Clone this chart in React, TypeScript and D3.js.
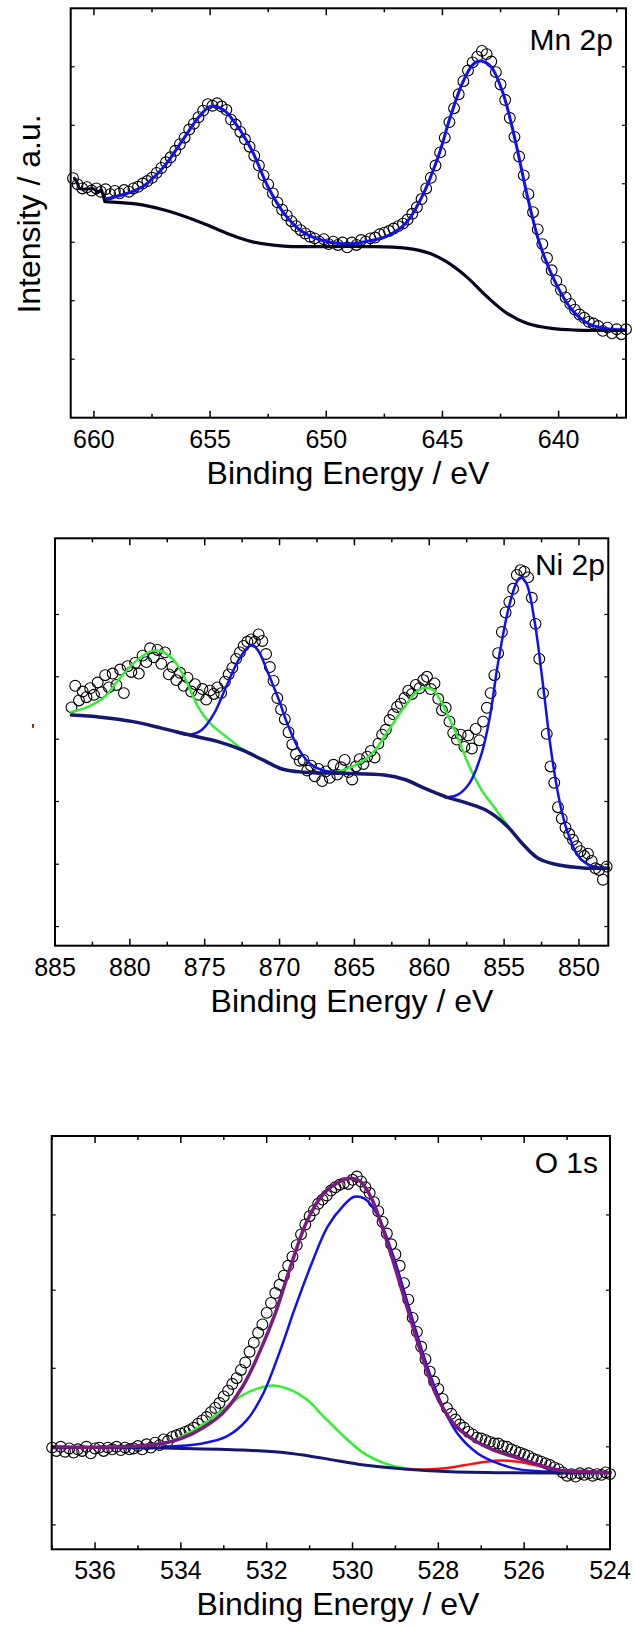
import React from "react";
import * as d3 from "d3";

type Pt = [number, number];

// ---------- Mn 2p ----------
const mnStart = 660.9;
const mnStep = 0.2;
const mnCounts = [
  58.5, 57.0, 56.0, 56.3, 55.5, 56.0, 55.2, 55.8, 54.6, 55.4,
  54.8, 55.6, 55.2, 56.0, 56.4, 57.2, 57.8, 58.6, 59.8, 61.0,
  62.4, 63.6, 65.2, 66.8, 68.4, 70.4, 71.8, 73.4, 75.0, 76.6,
  76.2, 76.8, 76.0, 75.2, 72.8, 71.6, 69.8, 68.0, 66.2, 64.0,
  61.6, 59.2, 57.0, 54.8, 52.6, 50.8, 49.4, 48.0, 46.8, 45.8,
  45.0, 44.2, 43.8, 43.0, 43.6, 42.4, 43.0, 42.2, 42.8, 41.6,
  42.8, 42.2, 43.4, 43.0, 43.8, 44.0, 44.8, 45.2, 45.6, 46.2,
  46.8, 47.4, 48.4, 49.8, 51.4, 53.4, 56.0, 58.6, 61.6, 64.8,
  68.4, 72.2, 75.6, 79.0, 82.2, 84.8, 86.8, 88.2, 89.6, 88.8,
  87.0, 84.4, 81.4, 77.6, 73.2, 68.6, 63.8, 59.2, 54.6, 50.2,
  46.0, 42.4, 39.0, 36.0, 33.4, 31.2, 29.4, 27.8, 26.4, 25.2,
  24.4, 23.4, 23.0, 22.4, 21.2, 22.0, 20.6, 21.6, 20.4, 21.6,
];
const mnEnvelope: Pt[] = [
  [659.53, 53.4], [658.8, 54.4], [657.92, 56.4], [657.05, 60.9], [656.18, 67.8],
  [655.48, 73.5], [654.96, 76.1], [654.43, 75.2], [653.91, 71.9], [653.21, 65.4],
  [652.51, 56.4], [651.82, 49.9], [651.12, 45.8], [650.24, 43.4], [649.2, 42.4],
  [648.32, 43.0], [647.45, 44.2], [646.58, 47.5], [645.88, 54.0], [645.18, 63.8],
  [644.66, 73.5], [644.14, 81.7], [643.7, 86.2], [643.35, 87.1], [642.91, 85.7],
  [642.39, 79.2], [641.87, 67.8], [641.34, 54.0], [640.82, 42.6], [640.12, 32.8],
  [639.42, 26.3], [638.73, 23.0], [638.03, 21.8], [637.16, 21.4],
];
const mnBackgroundHead: Pt[] = [
  [660.84, 58.5], [660.72, 57.4], [660.63, 56.0], [660.45, 55.8], [660.28, 55.9],
  [660.02, 55.9], [659.84, 55.2], [659.67, 55.6], [659.53, 52.8],
];
const mnBackground: Pt[] = [
  [659.53, 52.8], [657.92, 52.0], [656.7, 50.3], [655.31, 47.5], [654.26, 45.0],
  [653.21, 43.0], [651.82, 41.9], [650.07, 41.8], [648.32, 41.8], [646.58, 41.4],
  [645.53, 40.1], [644.83, 38.1], [643.96, 34.4], [643.09, 29.6], [642.22, 25.5],
  [641.34, 23.0], [640.3, 21.8], [639.25, 21.4], [637.16, 21.3],
];
const mnTicks = [660, 655, 650, 645, 640];
const mnYTicks = [14.29, 28.57, 42.86, 57.14, 71.43, 85.71];

// ---------- Ni 2p ----------
const niStart = 883.9;
const niStep = 0.25;
const niCounts = [
  58.5, 63.8, 60.2, 62.4, 61.0, 63.2, 61.6, 64.6, 62.2, 66.4,
  63.4, 66.8, 64.0, 67.8, 62.0, 68.6, 67.2, 69.4, 66.8, 71.2,
  69.6, 73.0, 70.8, 72.6, 69.2, 72.0, 66.6, 68.4, 65.2, 67.0,
  63.8, 65.8, 62.4, 64.2, 61.6, 63.0, 60.4, 62.6, 61.8, 63.4,
  62.0, 64.8, 66.6, 68.2, 70.4, 72.0, 73.6, 74.6, 75.2, 74.6,
  76.4, 74.8, 71.6, 68.4, 65.0, 60.8, 58.0, 55.6, 52.4, 49.4,
  47.0, 45.4, 45.6, 43.0, 44.2, 41.6, 43.4, 40.4, 42.8, 41.2,
  44.4, 42.0, 43.8, 45.6, 42.6, 40.8, 44.0, 45.8, 44.6, 46.4,
  47.8, 46.2, 49.6, 51.8, 53.0, 55.4, 56.8, 58.6, 59.4, 60.8,
  62.6, 61.8, 64.0, 63.2, 65.2, 66.0, 63.0, 64.4, 60.6, 57.8,
  58.4, 55.0, 52.2, 50.6, 51.8, 48.8, 51.6, 48.4, 53.2, 50.4,
  55.0, 58.4, 62.0, 66.4, 71.8, 77.0, 81.8, 84.4, 87.6, 91.0,
  92.2, 91.8, 90.4, 85.4, 79.0, 70.4, 62.0, 52.0, 44.0, 40.0,
  34.0, 31.2, 29.0, 27.4, 26.0, 24.4, 23.2, 22.0, 22.6, 20.8,
  19.0, 18.6, 16.2, 19.4,
];
const niBackground: Pt[] = [
  [883.9, 56.6], [881.95, 56.1], [879.78, 55.0], [877.89, 53.4], [876.0, 51.7],
  [874.1, 50.1], [872.47, 48.0], [871.12, 45.6], [869.77, 43.3], [868.41, 42.6],
  [865.7, 42.3], [863.0, 41.9], [861.64, 40.8], [860.29, 38.6], [858.93, 36.6],
  [857.58, 35.1], [856.23, 33.3], [854.87, 29.6], [853.79, 25.1], [852.71, 21.4],
  [851.35, 19.8], [849.73, 19.1], [848.02, 19.0],
];
const niSatellite1: Pt[] = [
  [883.9, 57.4], [882.76, 58.7], [881.68, 61.1], [880.6, 66.0], [879.51, 70.1],
  [878.56, 72.3], [877.89, 72.2], [877.08, 70.1], [876.26, 65.2], [875.45, 58.7],
  [874.64, 54.6], [873.56, 51.3], [872.47, 48.2], [871.4, 46.0],
];
const niPeak1: Pt[] = [
  [876.9, 52.4], [876.0, 51.8], [875.18, 53.0], [874.37, 57.0], [873.56, 63.6],
  [872.74, 70.1], [872.07, 73.4], [871.8, 73.8], [871.39, 72.2], [870.85, 67.7],
  [870.04, 60.3], [869.49, 54.6], [868.68, 48.0], [867.87, 44.4], [867.06, 43.0],
  [865.7, 42.5],
];
const niSatellite2: Pt[] = [
  [866.24, 42.6], [864.89, 44.4], [863.81, 47.2], [862.72, 52.9], [861.64, 58.7],
  [860.83, 62.4], [860.29, 63.3], [859.75, 62.8], [858.93, 57.9], [858.12, 51.3],
  [857.31, 43.9], [856.5, 38.2], [855.68, 34.1], [854.87, 30.0], [853.79, 25.1],
];
const niPeak2: Pt[] = [
  [858.93, 36.4], [858.12, 37.0], [857.31, 39.9], [856.5, 47.2], [855.95, 56.2],
  [855.41, 69.3], [854.73, 82.4], [854.19, 89.0], [853.92, 90.4], [853.52, 89.0],
  [852.98, 80.0], [852.44, 65.2], [851.9, 48.9], [851.36, 36.6], [850.81, 28.4],
  [850.0, 21.8], [849.19, 19.6], [848.02, 19.0],
];
const niTicks = [885, 880, 875, 870, 865, 860, 855, 850];
const niYTicks = [4.7, 20.0, 35.4, 50.7, 66.0, 81.3];

// ---------- O 1s ----------
const oStart = 537.0;
const oStep = 0.1;
const oCounts = [
  24.6, 23.8, 24.8, 23.6, 24.4, 23.4, 24.2, 23.8, 24.8, 23.2,
  24.4, 24.6, 23.8, 24.6, 24.2, 24.8, 24.0, 24.6, 24.2, 24.4,
  25.0, 24.2, 25.4, 24.6, 25.8, 25.2, 26.6, 26.2, 27.2, 27.6,
  28.0, 28.4, 28.8, 29.4, 30.4, 31.2, 32.0, 33.2, 34.2, 35.4,
  37.0, 38.4, 40.0, 41.4, 43.4, 45.2, 47.8, 50.0, 52.4, 54.4,
  57.2, 59.6, 62.0, 64.0, 66.2, 68.6, 70.8, 73.6, 76.2, 78.6,
  80.6, 82.0, 83.6, 84.6, 85.6, 86.8, 87.6, 88.2, 88.6, 88.4,
  89.4, 90.2, 89.0, 87.6, 86.2, 84.0, 81.8, 79.2, 76.4, 73.8,
  71.4, 68.6, 64.4, 60.4, 56.0, 52.6, 49.0, 46.0, 43.0, 40.6,
  38.8, 36.4, 34.2, 32.8, 31.4, 30.2, 29.4, 28.4, 27.8, 27.0,
  26.8, 26.4, 26.0, 25.6, 25.6, 25.0, 24.8, 24.2, 23.8, 23.4,
  23.0, 22.6, 22.0, 21.6, 21.2, 20.8, 20.4, 19.8, 19.4, 18.6,
  17.8, 18.2, 17.6, 18.4, 18.0, 18.4, 17.8, 18.2, 18.0, 18.6, 18.2,
];
const oBackground: Pt[] = [
  [536.99, 24.6], [535.39, 24.6], [533.97, 24.4], [532.56, 24.0], [531.61, 23.4],
  [530.67, 22.0], [529.73, 20.4], [528.78, 19.4], [527.84, 18.8], [526.42, 18.5],
  [524.02, 18.5],
];
const oLattice: Pt[] = [
  [534.44, 24.8], [533.5, 25.6], [532.93, 27.3], [532.46, 31.3], [532.08, 37.7],
  [531.71, 47.4], [531.33, 58.7], [530.95, 69.2], [530.58, 78.1], [530.2, 83.3],
  [529.96, 85.3], [529.73, 84.9], [529.44, 81.3], [529.07, 71.6], [528.69, 58.7],
  [528.31, 45.8], [527.93, 35.3], [527.56, 28.1], [527.08, 23.2], [526.61, 20.8],
  [526.14, 19.4], [525.48, 18.8], [524.02, 18.5],
];
const oHydroxyl: Pt[] = [
  [534.44, 25.2], [533.97, 27.3], [533.5, 30.1], [533.03, 33.7], [532.56, 37.3],
  [532.18, 39.0], [531.8, 39.6], [531.42, 38.5], [531.05, 36.1], [530.67, 32.1],
  [530.2, 27.3], [529.73, 23.2], [529.25, 20.8], [528.78, 19.6], [528.31, 19.2],
];
const oLow: Pt[] = [
  [528.78, 19.4], [528.31, 19.3], [527.84, 19.6], [527.37, 20.4], [526.89, 21.2],
  [526.52, 21.5], [526.14, 21.2], [525.76, 20.4], [525.29, 19.4], [524.82, 18.8],
  [524.02, 18.5],
];
const oEnvelope: Pt[] = [
  [536.99, 24.8], [535.39, 24.8], [534.44, 25.6], [533.97, 26.9], [533.5, 29.3],
  [533.03, 32.9], [532.56, 39.4], [532.18, 47.4], [531.8, 57.1], [531.42, 69.2],
  [531.05, 79.7], [530.67, 86.1], [530.29, 89.0], [530.06, 89.8], [529.82, 89.0],
  [529.54, 84.5], [529.16, 73.2], [528.78, 60.3], [528.4, 47.4], [528.03, 36.9],
  [527.65, 30.5], [527.18, 26.5], [526.71, 24.0], [526.24, 22.4], [525.76, 20.8],
  [525.2, 19.2], [524.54, 18.8], [524.02, 18.5],
];
const oTicks = [536, 534, 532, 530, 528, 526, 524];
const oYTicks = [5.9, 24.8, 43.8, 62.7, 80.9];

const FONT = "'Liberation Sans', Arial, Helvetica, sans-serif";

type CurveSpec = { pts: Pt[]; color: string; width: number; linear?: boolean };

type PanelProps = {
  box: { left: number; top: number; right: number; bottom: number };
  xDomain: [number, number];
  ticks: number[];
  minorStep: number;
  yTicks: number[];
  start: number;
  step: number;
  counts: number[];
  curves: CurveSpec[];
  label: string;
  labelX: number;
  labelY: number;
  titleX: number;
};

function Panel(p: PanelProps) {
  const { left, top, right, bottom } = p.box;
  const x = d3.scaleLinear().domain(p.xDomain).range([left, right]);
  const y = d3.scaleLinear().domain([0, 100]).range([bottom, top]);
  const lo = Math.min(p.xDomain[0], p.xDomain[1]);
  const hi = Math.max(p.xDomain[0], p.xDomain[1]);
  const all = d3.range(Math.ceil(lo / p.minorStep) * p.minorStep, hi + 1e-9, p.minorStep);
  const isMajor = (v: number) => p.ticks.some((t) => Math.abs(t - v) < 1e-6);

  const line = (c: CurveSpec) =>
    d3
      .line<Pt>()
      .x((d) => x(d[0]))
      .y((d) => y(d[1]))
      .curve(c.linear ? d3.curveLinear : d3.curveCatmullRom.alpha(0.5))(c.pts) || "";

  return (
    <g>
      {p.counts.map((c, i) => (
        <circle
          key={i}
          cx={x(p.start - i * p.step)}
          cy={y(c)}
          r={5.4}
          fill="none"
          stroke="#000"
          strokeWidth={1.1}
        />
      ))}
      {p.curves.map((c, i) => (
        <path
          key={i}
          d={line(c)}
          fill="none"
          stroke={c.color}
          strokeWidth={c.width}
          strokeLinejoin="round"
          strokeLinecap="round"
        />
      ))}
      {all.map((v, i) => {
        const len = isMajor(v) ? 7 : 4;
        return (
          <g key={i}>
            <line x1={x(v)} x2={x(v)} y1={bottom} y2={bottom - len} stroke="#000" strokeWidth={1.5} />
            <line x1={x(v)} x2={x(v)} y1={top} y2={top + len} stroke="#000" strokeWidth={1.5} />
          </g>
        );
      })}
      {p.yTicks.map((v, i) => (
        <g key={i}>
          <line x1={left} x2={left + 4} y1={y(v)} y2={y(v)} stroke="#000" strokeWidth={1.2} />
          <line x1={right} x2={right - 4} y1={y(v)} y2={y(v)} stroke="#000" strokeWidth={1.2} />
        </g>
      ))}
      <rect
        x={left}
        y={top}
        width={right - left}
        height={bottom - top}
        fill="none"
        stroke="#000"
        strokeWidth={2}
      />
      {p.ticks.map((t) => (
        <text
          key={t}
          x={x(t)}
          y={bottom + 30}
          textAnchor="middle"
          fontFamily={FONT}
          fontSize={25}
          fill="#000"
        >
          {t}
        </text>
      ))}
      <text
        x={p.titleX}
        y={bottom + 66}
        textAnchor="middle"
        fontFamily={FONT}
        fontSize={32}
        fill="#000"
      >
        Binding Energy / eV
      </text>
      <text
        x={p.labelX}
        y={p.labelY}
        textAnchor="end"
        fontFamily={FONT}
        fontSize={30}
        fill="#000"
      >
        {p.label}
      </text>
    </g>
  );
}

export default function App() {
  const blue = "#1010f0";
  const green = "#33ee33";
  const navy = "#14186e";
  return (
    <svg
      width={635}
      height={1627}
      style={{ position: "absolute", left: 0, top: 0, background: "#fff" }}
    >
      <rect x={0} y={0} width={635} height={1627} fill="#fff" />
      <Panel
        box={{ left: 70.7, top: 8.3, right: 626, bottom: 417.7 }}
        xDomain={[661, 637.1]}
        ticks={mnTicks}
        minorStep={2.5}
        yTicks={mnYTicks}
        start={mnStart}
        step={mnStep}
        counts={mnCounts}
        curves={[
          { pts: mnEnvelope, color: blue, width: 3 },
          { pts: mnBackgroundHead, color: "#050520", width: 3, linear: true },
          { pts: mnBackground, color: "#050520", width: 3.2 },
        ]}
        label="Mn 2p"
        labelX={613}
        labelY={50}
        titleX={348}
      />
      <text
        transform="translate(40,214) rotate(-90)"
        textAnchor="middle"
        fontFamily={FONT}
        fontSize={32}
        fill="#000"
      >
        Intensity / a.u.
      </text>
      <Panel
        box={{ left: 55, top: 538.3, right: 608.3, bottom: 945.7 }}
        xDomain={[885, 848.04]}
        ticks={niTicks}
        minorStep={2.5}
        yTicks={niYTicks}
        start={niStart}
        step={niStep}
        counts={niCounts}
        curves={[
          { pts: niSatellite1, color: green, width: 2.5 },
          { pts: niSatellite2, color: green, width: 2.5 },
          { pts: niPeak1, color: blue, width: 2.5 },
          { pts: niPeak2, color: blue, width: 2.5 },
          { pts: niBackground, color: navy, width: 3.5 },
        ]}
        label="Ni 2p"
        labelX={605}
        labelY={575}
        titleX={352}
      />
      <text x={33} y={737} textAnchor="middle" fontFamily={FONT} fontSize={18} fill="#000">
        '
      </text>
      <Panel
        box={{ left: 51.7, top: 1136, right: 610, bottom: 1549.3 }}
        xDomain={[537.01, 524]}
        ticks={oTicks}
        minorStep={1}
        yTicks={oYTicks}
        start={oStart}
        step={oStep}
        counts={oCounts}
        curves={[
          { pts: oHydroxyl, color: green, width: 2.5 },
          { pts: oLow, color: "#ff1010", width: 2.5 },
          { pts: oLattice, color: blue, width: 2.5 },
          { pts: oBackground, color: navy, width: 3 },
          { pts: oEnvelope, color: "#7d1a82", width: 3.5 },
        ]}
        label="O 1s"
        labelX={598}
        labelY={1173}
        titleX={338}
      />
    </svg>
  );
}
